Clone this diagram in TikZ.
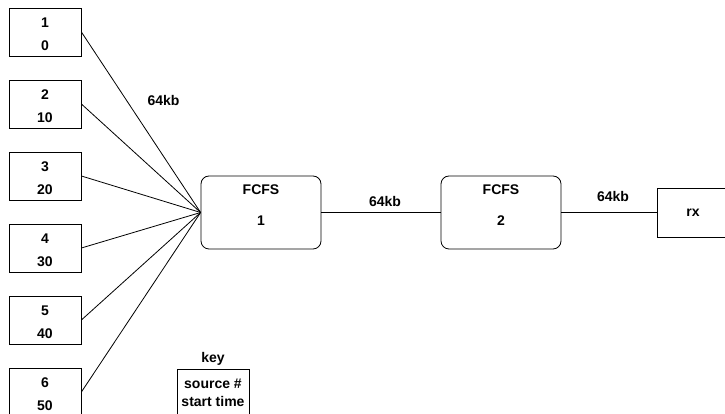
\documentclass[tikz,border=0pt]{standalone}
\usepackage{fontspec}
\setmainfont{Liberation Sans}

\begin{document}
\begin{tikzpicture}[x=1pt, y=1pt, line width=0.8pt,
	font=\fontsize{14pt}{17pt}\selectfont\bfseries,
	srcbox/.style={draw, rectangle, minimum width=72pt, minimum height=48pt, align=center,
		font=\fontsize{14pt}{23pt}\selectfont\bfseries, text height=38pt},
	fcfsbox/.style={draw, rectangle, rounded corners=8pt, minimum width=120pt, minimum height=73pt,
		align=center, font=\fontsize{14pt}{31pt}\selectfont\bfseries, text depth=14pt},
	keybox/.style={draw, rectangle, minimum width=72pt, minimum height=48pt, align=center,
		font=\fontsize{14pt}{18pt}\selectfont\bfseries}]
		\useasboundingbox (0, 0) rectangle (725, 414);
		\clip (0, 0) rectangle (725, 414);
		% sources: number and start time
		\node [srcbox] (srcone) at (45, 382) {1\\0};
		\node [srcbox] (srctwo) at (45, 310) {2\\10};
		\node [srcbox] (srcthree) at (45, 238) {3\\20};
		\node [srcbox] (srcfour) at (45, 166) {4\\30};
		\node [srcbox] (srcfive) at (45, 94) {5\\40};
		\node [srcbox] (srcsix) at (45, 22) {6\\50};
		% queues and receiver
		\node [fcfsbox] (fcfsone) at (261, 201.5) {FCFS\\1};
		\node [fcfsbox] (fcfstwo) at (501, 201.5) {FCFS\\2};
		\node [draw, rectangle, minimum width=72pt, minimum height=49pt] (rx) at (693, 201.5) {rx};
		\path [draw] (srcone.east) -- (fcfsone.west);
		\path [draw] (srctwo.east) -- (fcfsone.west);
		\path [draw] (srcthree.east) -- (fcfsone.west);
		\path [draw] (srcfour.east) -- (fcfsone.west);
		\path [draw] (srcfive.east) -- (fcfsone.west);
		\path [draw] (srcsix.east) -- (fcfsone.west);
		\path [draw] (fcfsone.east) -- (fcfstwo.west);
		\path [draw] (fcfstwo.east) -- (rx.west);
		% link rates
		\node (kbone) at (163.5, 313.5) {64kb};
		\node (kbtwo) at (385, 212) {64kb};
		\node (kbthree) at (613, 217.5) {64kb};
		% key
		\node [keybox] (keybox) at (213, 21) {source \#\\start time};
		\node (keylabel) at (213, 55) {key};
	\end{tikzpicture}
\end{document}
